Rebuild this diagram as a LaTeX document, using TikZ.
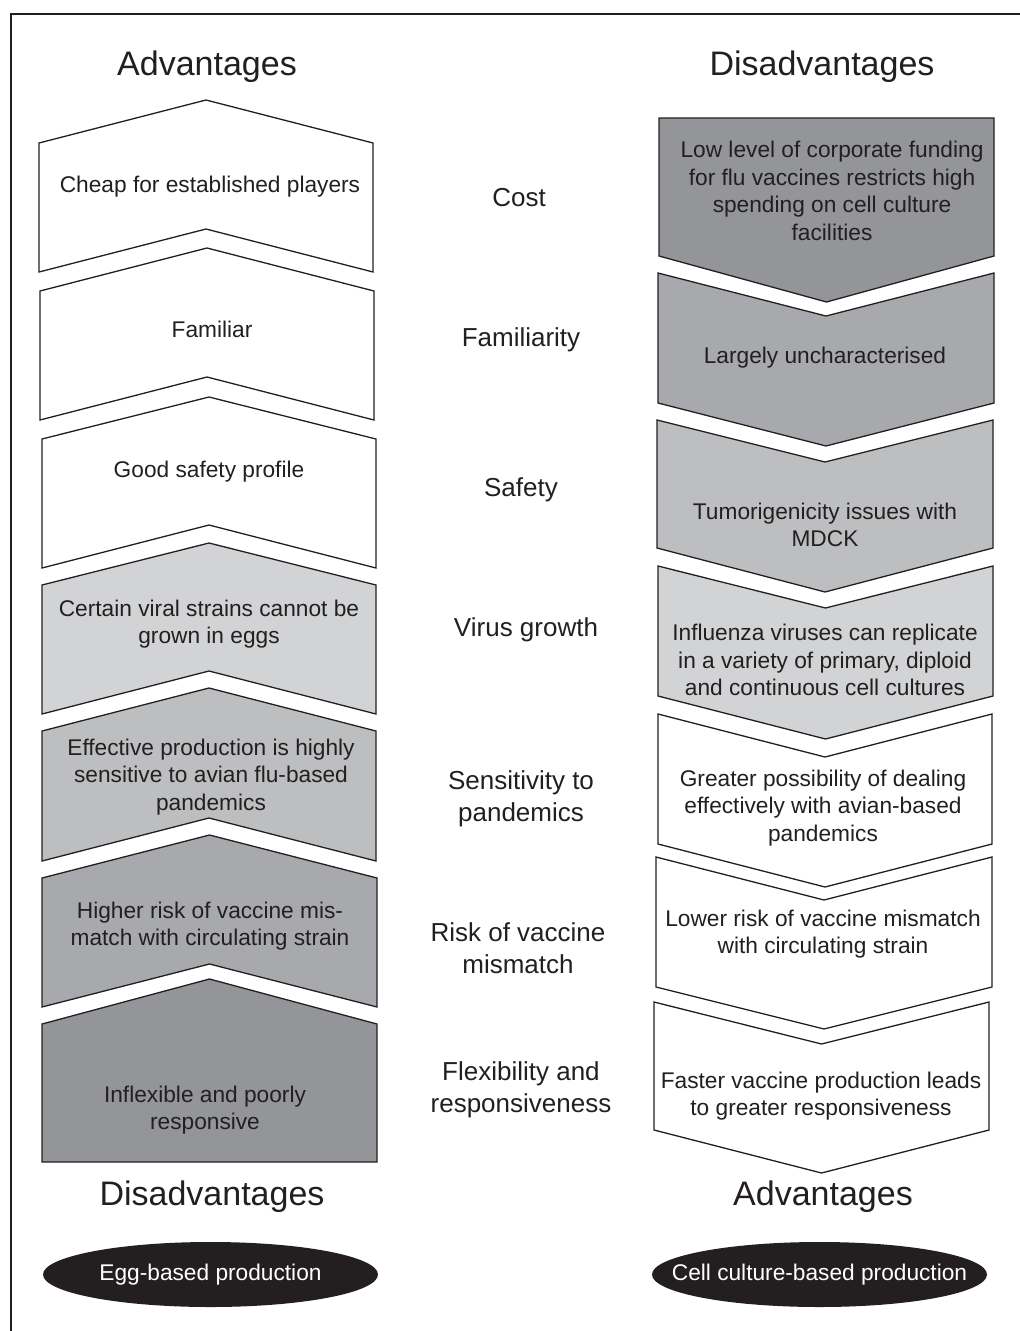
\documentclass[tikz,border=0pt]{standalone}
\usepackage{fontspec}
\setmainfont{Liberation Sans}
\usetikzlibrary{shapes.geometric}
\definecolor{ink}{HTML}{231F20}
\definecolor{gA}{HTML}{939598}
\definecolor{gB}{HTML}{A7A9AC}
\definecolor{gC}{HTML}{BCBEC0}
\definecolor{gD}{HTML}{D1D3D4}
\tikzset{
  chev/.style={draw=ink, line width=1.3pt, line join=miter},
  body/.style={font=\fontsize{22.7}{27.5}\selectfont, text=ink, align=center, inner sep=0pt},
  midlabel/.style={font=\fontsize{26}{32}\selectfont, text=ink, align=center, inner sep=0pt},
  head/.style={font=\fontsize{34}{40}\selectfont, text=ink, inner sep=0pt},
  oval/.style={ellipse, fill=ink, draw=none, minimum width=335pt, minimum height=65pt, inner sep=0pt,
    font=\fontsize{22.7}{27.5}\selectfont, text=white}
}
% xl, xr, apex, shoulder, bottom, notch depth, fill
\newcommand\upchev[7]{\draw[chev,fill=#7] (#1,#4) -- ({(#1+#2)/2},#3) -- (#2,#4) -- (#2,#5) -- ({(#1+#2)/2},#5-#6) -- (#1,#5) -- cycle;}
% xl, xr, top, notch depth, bottom, tip, fill
\newcommand\downchev[7]{\draw[chev,fill=#7] (#1,#3) -- ({(#1+#2)/2},#3+#4) -- (#2,#3) -- (#2,#5) -- ({(#1+#2)/2},#6) -- (#1,#5) -- cycle;}
\begin{document}
\begin{tikzpicture}[x=1pt,y=-1pt]
\useasboundingbox (0,0) rectangle (1020,1331);
\fill[white] (0,0) rectangle (1020,1331);
\draw[ink, line width=1.6pt] (11,1340) -- (11,14) -- (1030,14);

% left column
\upchev{39}{373}{100}{143}{272}{43}{white}
\upchev{40}{374}{248}{291}{420}{43}{white}
\upchev{42}{376}{397}{439}{568}{43}{white}
\upchev{42}{376}{543}{585}{714}{43}{gD}
\upchev{42}{376}{688}{731}{861}{43}{gC}
\upchev{42}{377}{835}{878}{1007}{43}{gB}
\upchev{42}{377}{979}{1024}{1162}{0}{gA}

% right column
\downchev{659}{994}{118}{0}{256}{302}{gA}
\downchev{658}{994}{273}{43}{403}{446}{gB}
\downchev{657}{993}{420}{42}{548}{592}{gC}
\downchev{658}{993}{566}{42}{696}{739}{gD}
\downchev{658}{992}{714}{43}{844}{887}{white}
\downchev{656}{992}{857}{43}{987}{1029}{white}
\downchev{654}{989}{1002}{42}{1130}{1173}{white}

% headings
\node[head] (hadvL) at (207,67) {Advantages};
\node[head] (hdisR) at (822,67) {Disadvantages};
\node[head] (hdisL) at (212,1197) {Disadvantages};
\node[head] (hadvR) at (823,1197) {Advantages};

% left texts
\node[body] (l1) at (210,187) {Cheap for established players};
\node[body] (l2) at (212,329) {Familiar};
\node[body] (l3) at (209,472) {Good safety profile};
\node[body] (l4) at (209,624) {Certain viral strains cannot be\\grown in eggs};
\node[body] (l5) at (211,777) {Effective production is highly\\sensitive to avian flu-based\\pandemics};
\node[body] (l6) at (210,926) {Higher risk of vaccine mis-\\match with circulating strain};
\node[body] (l7) at (205,1110) {Inflexible and poorly\\responsive};

% right texts
\node[body] (r1) at (832,191) {Low level of corporate funding\\for flu vaccines restricts high\\spending on cell culture\\facilities};
\node[body] (r2) at (825,358) {Largely uncharacterised};
\node[body] (r3) at (825,525) {Tumorigenicity issues with\\MDCK};
\node[body] (r4) at (825,660) {Influenza viruses can replicate\\in a variety of primary, diploid\\and continuous cell cultures};
\node[body] (r5) at (823,808) {Greater possibility of dealing\\effectively with avian-based\\pandemics};
\node[body] (r6) at (823,934) {Lower risk of vaccine mismatch\\with circulating strain};
\node[body] (r7) at (821,1096) {Faster vaccine production leads\\to greater responsiveness};

% middle labels
\node[midlabel] (m1) at (519,198) {Cost};
\node[midlabel] (m2) at (521,340) {Familiarity};
\node[midlabel] (m3) at (521,490) {Safety};
\node[midlabel] (m4) at (526,630) {Virus growth};
\node[midlabel] (m5) at (521,799) {Sensitivity to\\pandemics};
\node[midlabel] (m6) at (518,948) {Risk of vaccine\\mismatch};
\node[midlabel] (m7) at (521,1090) {Flexibility and\\responsiveness};

% ovals
\node[oval] (egg) at (210.5,1274.5) {\makebox[0pt]{Egg-based production}};
\node[oval] (cell) at (819.5,1274.5) {\makebox[0pt]{Cell culture-based production}};
\end{tikzpicture}
\end{document}
